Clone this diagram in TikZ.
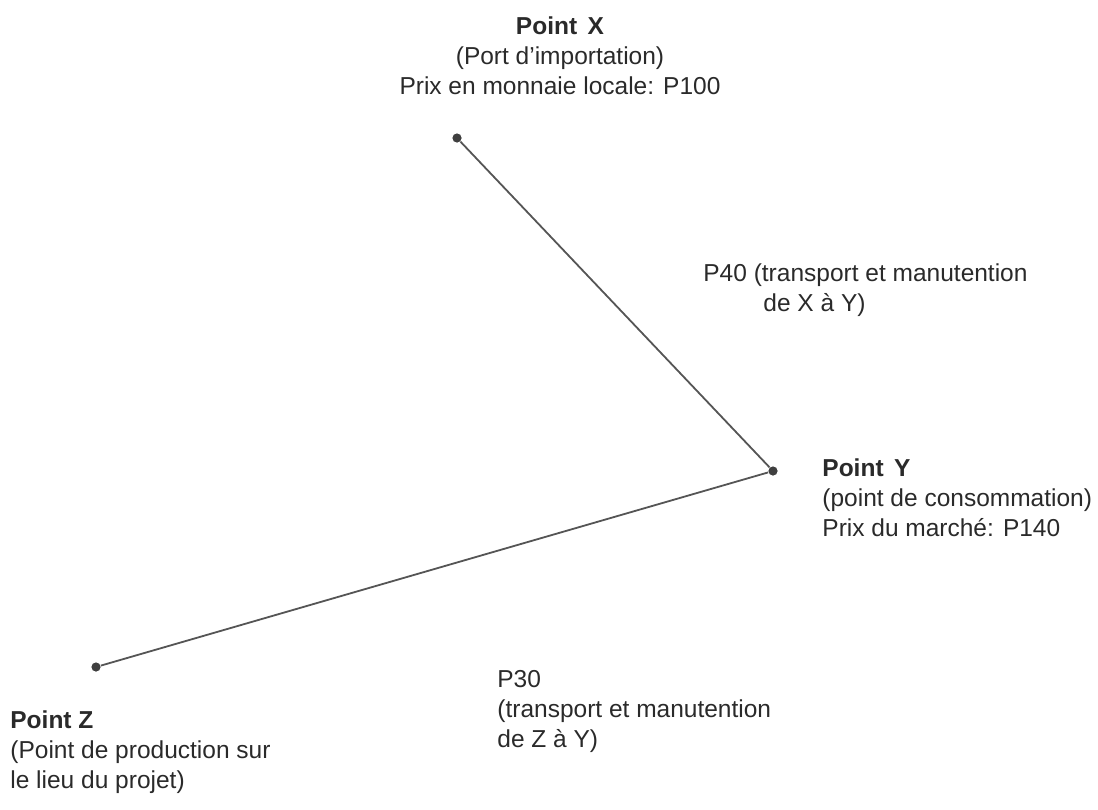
\documentclass[tikz,border=0pt]{standalone}
\usepackage{fontspec}
\setmainfont{Liberation Sans}
\usepackage{xcolor}
\usepackage{tikz}
\usetikzlibrary{positioning}

\definecolor{inkgray}{HTML}{2A2A2A}
\definecolor{linegray}{HTML}{555555}

\begin{document}
\begin{tikzpicture}[x=0.5pt, y=-0.5pt,
  every node/.style={font=\fontsize{12.25}{15}\selectfont, text=inkgray, inner sep=0pt},
  dot/.style={circle, fill=inkgray!90, minimum size=4.6pt},
  link/.style={draw=linegray, line width=0.9pt},
  lbl/.style={align=left, anchor=north west}]

\useasboundingbox (0,0) rectangle (1098,809);

% Points
\node (xdot) [dot] at (457,138) {};
\node (ydot) [dot] at (773,471) {};
\node (zdot) [dot] at (96,667) {};

% Routes
\draw[link] (xdot) -- (ydot);
\draw[link] (zdot) -- (ydot);

% Point labels
\node (xlab) [align=center, anchor=north] at (560,16)
  {\textbf{Point\hspace{0.15em} X}\\(Port d'importation)\\Prix en monnaie locale: P100};
\node (ylab) [lbl] at (822,458)
  {\textbf{Point\hspace{0.15em} Y}\\(point de consommation)\\Prix du marché: P140};
\node (zlab) [lbl] at (10,710)
  {\textbf{Point Z}\\(Point de production sur\\le lieu du projet)};

% Cost labels
\node (xycost) [lbl] at (703,263)
  {P40 (transport et manutention\\\hspace*{30pt}de X à Y)};
\node (zycost) [lbl] at (497,670)
  {P30\\(transport et manutention\\de Z à Y)};

\end{tikzpicture}
\end{document}
